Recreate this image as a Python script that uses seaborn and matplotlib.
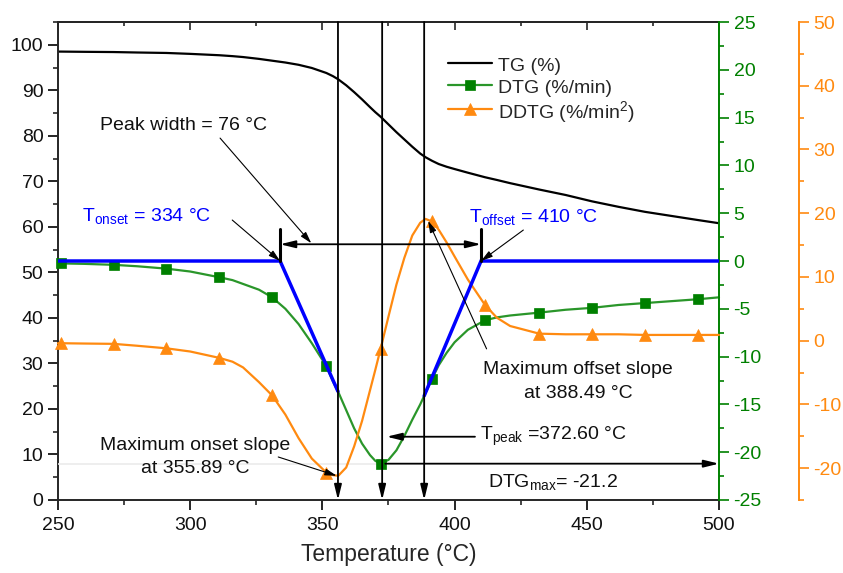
"""TG / DTG / DDTG curves with tangent construction."""

import matplotlib

matplotlib.use("Agg")
import matplotlib.pyplot as plt
import matplotlib.transforms as mtransforms
import numpy as np
import pandas as pd
import seaborn as sns
from matplotlib.ticker import MultipleLocator

# ---- data ------------------------------------------------------------------
temperature = [250, 251, 260, 271, 280, 291, 300, 311, 316, 320, 326, 331, 336,
               341, 346, 351.5, 354, 356, 359, 362, 365, 368, 370, 372, 375, 378,
               381, 384, 387, 389, 391.5, 394, 397, 400, 405, 411.5, 416, 421,
               432, 442, 452, 462, 472, 482, 492, 500]
tg = [98.5, 98.5, 98.45, 98.4, 98.3, 98.2, 98.0, 97.7, 97.5, 97.3, 96.9, 96.5,
      96.1, 95.6, 94.9, 93.8, 93.1, 92.4, 91.1, 89.6, 88.0, 86.3, 85.2, 84.2,
      82.5, 80.8, 79.2, 77.6, 76.1, 75.3, 74.5, 73.8, 73.2, 72.7, 71.9, 70.9,
      70.3, 69.6, 68.2, 67.0, 65.6, 64.4, 63.3, 62.4, 61.5, 60.8]
dtg = [-0.2, -0.25, -0.3, -0.4, -0.55, -0.8, -1.1, -1.7, -2.0, -2.4, -3.0, -3.8,
       -5.0, -6.6, -8.6, -11.0, -12.6, -13.7, -15.6, -17.5, -19.1, -20.3, -20.9,
       -21.2, -20.8, -19.8, -18.3, -16.6, -15.0, -13.8, -12.3, -10.9, -9.6, -8.5,
       -7.2, -6.2, -5.9, -5.7, -5.4, -5.1, -4.9, -4.6, -4.4, -4.2, -4.0, -3.8]
ddtg = [-0.4, -0.4, -0.45, -0.5, -0.8, -1.2, -1.7, -2.7, -3.3, -4.2, -6.5, -8.6,
        -11.6, -15.3, -18.5, -20.7, -21.1, -21.2, -19.9, -16.6, -12.6, -7.8,
        -4.6, -1.3, 3.8, 8.8, 13.0, 16.5, 18.5, 19.1, 18.7, 17.4, 15.4, 13.2, 9.6,
        5.6, 3.6, 2.3, 1.1, 1.0, 1.0, 1.0, 0.9, 0.9, 0.9, 0.9]
marker_temperature = [251, 271, 291, 311, 331, 351.5, 372, 391.5, 411.5, 432,
                      452, 472, 492]

t_onset = 334
t_offset = 410
t_max_onset = 355.89
t_peak = 372.60
t_max_offset = 388.49
dtg_max = -21.2
peak_width = 76

GREEN = "#008000"
GREEN_LINE = "#2a962a"
ORANGE = "#ff8a10"
BLUE = "#0000ff"

df = pd.DataFrame({"Temperature": temperature, "TG": tg, "DTG": dtg, "DDTG": ddtg})
marks = list(np.isin(temperature, marker_temperature))

# ---- style -------------------------------------------------------------------
sns.set_theme(style="ticks")
plt.rcParams["font.family"] = ["Liberation Sans", "DejaVu Sans"]
plt.rcParams["mathtext.fontset"] = "custom"
plt.rcParams["mathtext.rm"] = "Liberation Sans"
plt.rcParams["mathtext.it"] = "Liberation Sans:italic"
plt.rcParams["axes.linewidth"] = 1.4
plt.rcParams["axes.unicode_minus"] = False

fig = plt.figure(figsize=(8.43, 5.73), dpi=100)
fig.patch.set_facecolor("white")
ax = fig.add_axes([0.0688, 0.1274, 0.7841, 0.8342])
ax2 = ax.twinx()
ax3 = ax.twinx()

sns.lineplot(data=df, x="Temperature", y="TG", ax=ax, color="black", lw=1.6,
             label="TG (%)", estimator=None, sort=False)
sns.lineplot(data=df, x="Temperature", y="DTG", ax=ax2, color=GREEN_LINE, lw=1.6,
             marker="s", markersize=7.5, markevery=marks, markerfacecolor=GREEN,
             markeredgecolor=GREEN, markeredgewidth=0.5, clip_on=False,
             label="DTG (%/min)", estimator=None, sort=False)
sns.lineplot(data=df, x="Temperature", y="DDTG", ax=ax3, color=ORANGE, lw=1.6,
             marker="^", markersize=9, markevery=marks, markerfacecolor=ORANGE,
             markeredgecolor=ORANGE, markeredgewidth=0.5, clip_on=False,
             label=r"DDTG (%/min$\mathregular{^2}$)", estimator=None, sort=False)
for a in (ax, ax2, ax3):
    if a.get_legend() is not None:
        a.get_legend().remove()

# ---- axes --------------------------------------------------------------------
ax.set_xlim(250, 500)
ax.set_ylim(0, 105)
ax2.set_ylim(-25, 25)
ax3.set_ylim(-25, 50)
ax.xaxis.set_major_locator(MultipleLocator(50))
ax.xaxis.set_minor_locator(MultipleLocator(25))
ax.yaxis.set_major_locator(MultipleLocator(10))
ax.yaxis.set_minor_locator(MultipleLocator(5))
ax2.yaxis.set_major_locator(MultipleLocator(5))
ax2.yaxis.set_minor_locator(MultipleLocator(2.5))
ax3.yaxis.set_major_locator(MultipleLocator(10))
ax3.yaxis.set_minor_locator(MultipleLocator(5))

ax.set_xlabel("Temperature (°C)", fontsize=16.5, labelpad=7)
ax.set_ylabel("")
ax2.set_ylabel("")
ax3.set_ylabel("")

ax.spines["right"].set_visible(False)
for a in (ax2, ax3):
    for s in ("left", "top", "bottom"):
        a.spines[s].set_visible(False)
ax2.spines["right"].set_color(GREEN)
ax3.spines["right"].set_color(ORANGE)
ax3.spines["right"].set_position(("axes", 1.121))

ax.tick_params(which="major", direction="out", length=7, width=1.2, labelsize=14,
               pad=3.5, color="black", labelcolor="#111111")
ax.tick_params(which="minor", direction="out", length=3.5, width=1.2)
ax.tick_params(axis="x", pad=5)
ax2.tick_params(axis="y", which="major", direction="out", length=7, width=1.2,
                labelsize=14, pad=3.5, colors=GREEN)
ax2.tick_params(axis="y", which="minor", direction="out", length=3.5, width=1.2,
                colors=GREEN)
ax3.tick_params(axis="y", which="major", direction="out", length=7, width=1.2,
                labelsize=14, pad=3.5, colors=ORANGE)
ax3.tick_params(axis="y", which="minor", direction="out", length=3.5, width=1.2,
                colors=ORANGE)

top = ax.secondary_xaxis("top")
top.xaxis.set_major_locator(MultipleLocator(50))
top.xaxis.set_minor_locator(MultipleLocator(25))
top.tick_params(which="major", direction="in", length=6, width=1.2, labeltop=False)
top.tick_params(which="minor", direction="in", length=3, width=1.2)

# ---- tangent construction (drawn on the top-most axes) -----------------------
dtg_tf = ax2.transData
vert_tf = mtransforms.blended_transform_factory(ax.transData, ax.transAxes)

onset_y = np.interp(t_max_onset, temperature, dtg)
offset_y = np.interp(t_max_offset, temperature, dtg)
ax3.plot([250, t_onset, t_max_onset], [0, 0, onset_y], color=BLUE, lw=2.5,
         transform=dtg_tf, zorder=4, solid_joinstyle="miter")
ax3.plot([t_max_offset, t_offset, 500], [offset_y, 0, 0], color=BLUE, lw=2.5,
         transform=dtg_tf, zorder=4, solid_joinstyle="miter")

# faint guide at DTG max
ax2.plot([250, t_peak], [dtg_max, dtg_max], color="#ebebeb", lw=1.2, zorder=0)

big_head = dict(arrowstyle="-|>,head_length=0.9,head_width=0.22", color="black",
                lw=1.3, shrinkA=0, shrinkB=0, mutation_scale=10)
thin_head = dict(arrowstyle="-|>,head_length=0.7,head_width=0.2", color="black",
                 lw=0.8, shrinkA=0, shrinkB=0, mutation_scale=10)

for t in (t_max_onset, t_peak, t_max_offset):
    ax3.annotate("", xy=(t, 0), xycoords=vert_tf, xytext=(t, 1),
                 textcoords=vert_tf, arrowprops=big_head, zorder=5)

# peak width double arrow with end bars
ax3.annotate("", xy=(t_offset, 1.75), xycoords=dtg_tf, xytext=(t_onset, 1.75),
             textcoords=dtg_tf,
             arrowprops=dict(big_head, arrowstyle="<|-|>,head_length=0.9,head_width=0.22"),
             zorder=5)
for t in (t_onset, t_offset):
    ax3.plot([t, t], [0, 3.3], color="black", lw=2.2, transform=dtg_tf, zorder=5)

# T_peak and DTG_max arrows
ax3.annotate("", xy=(374.3, 13.9), xycoords=ax.transData, xytext=(407.7, 13.9),
             textcoords=ax.transData, arrowprops=big_head, zorder=5)
ax3.annotate("", xy=(500, dtg_max), xycoords=dtg_tf, xytext=(t_peak + 1.2, dtg_max),
             textcoords=dtg_tf, arrowprops=big_head, zorder=5)

# thin pointer arrows
ax3.annotate("", xy=(345.8, 56.4), xycoords=ax.transData, xytext=(311.3, 79.5),
             textcoords=ax.transData, arrowprops=thin_head, zorder=6)
ax3.annotate("", xy=(t_onset, 0), xycoords=dtg_tf, xytext=(315.9, 61.5),
             textcoords=ax.transData, arrowprops=thin_head, zorder=6)
ax3.annotate("", xy=(t_offset, 0), xycoords=dtg_tf, xytext=(426.0, 59.3),
             textcoords=ax.transData, arrowprops=thin_head, zorder=6)
ax3.annotate("", xy=(390.0, 18.8), xycoords=ax3.transData, xytext=(412.1, 33.2),
             textcoords=ax.transData, arrowprops=thin_head, zorder=6)
ax3.annotate("", xy=(t_max_onset - 0.5, np.interp(t_max_onset, temperature, ddtg)),
             xycoords=ax3.transData, xytext=(333.3, 9.45),
             textcoords=ax.transData, arrowprops=thin_head, zorder=6)

# ---- texts -------------------------------------------------------------------
txt = dict(transform=ax.transData, fontsize=14, va="baseline", zorder=7,
           color="#111111")
ax3.text(297.4, 81.3, f"Peak width = {peak_width} °C", ha="center", **txt)
ax3.text(259.0, 61.3, r"T$_{\mathregular{onset}}$" + f" = {t_onset} °C", ha="left",
         **dict(txt, color=BLUE))
ax3.text(405.6, 61.1, r"T$_{\mathregular{offset}}$" + f" = {t_offset} °C", ha="left",
         **dict(txt, color=BLUE))
ax3.text(446.8, 27.7, "Maximum offset slope", ha="center", **txt)
ax3.text(446.8, 22.3, f"at {t_max_offset:.2f} °C", ha="center", **txt)
ax3.text(409.6, 13.2, r"T$_{\mathregular{peak}}$" + f" ={t_peak:.2f} °C", ha="left",
         **txt)
ax3.text(437.3, 2.9, r"DTG$_{\mathregular{max}}$" + f"= {dtg_max}", ha="center", **txt)
ax3.text(301.8, 11.0, "Maximum onset slope", ha="center", **txt)
ax3.text(301.8, 5.86, f"at {t_max_onset:.2f} °C", ha="center", **txt)

# ---- legend ------------------------------------------------------------------
handles, labels = [], []
for a in (ax, ax2, ax3):
    h, l = a.get_legend_handles_labels()
    handles += h
    labels += l
ax3.legend(handles, labels, loc="upper left", bbox_to_anchor=(0.531, 0.905),
           bbox_transform=fig.transFigure, frameon=False, fontsize=14,
           handlelength=2.3, handletextpad=0.3, handleheight=1.2,
           labelspacing=0.08, borderaxespad=0, borderpad=0, numpoints=1)

fig.savefig("out.png", dpi=100, facecolor="white")
